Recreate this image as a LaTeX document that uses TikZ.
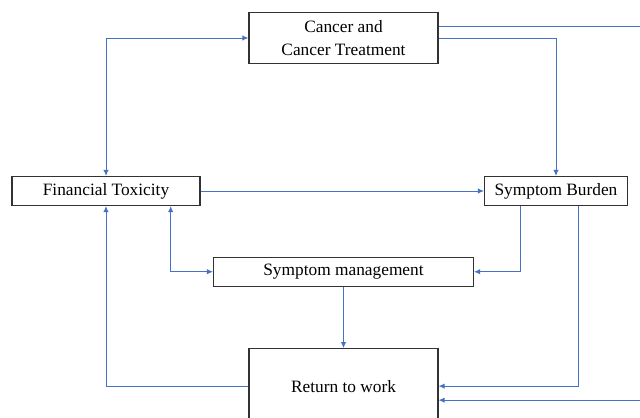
\documentclass[tikz,border=0pt]{standalone}
\usepackage{fontspec}
\setmainfont{Liberation Serif}
\usepackage{tikz}
\usetikzlibrary{positioning,arrows.meta,calc}
\definecolor{linkblue}{RGB}{68, 114, 196}
\definecolor{boxgray}{RGB}{50, 50, 50}

\begin{document}
\begin{tikzpicture}[
    x=0.75pt, y=-0.75pt,
    box/.style={draw=boxgray, line width=0.8pt, align=center, inner sep=0pt,
        font=\fontsize{13}{17.5}\selectfont, fill=white},
    arrow/.style={-{Latex[length=4.5pt,width=4pt]}, line width=0.75pt, draw=linkblue},
    biarrow/.style={{Latex[length=4.5pt,width=4pt]}-{Latex[length=4.5pt,width=4pt]},
        line width=0.75pt, draw=linkblue}
]
\path[use as bounding box, fill=white] (0,0) rectangle (640,418);
\node[box, minimum width=141.75pt, minimum height=38.25pt] (canc) at (343.5,38) {Cancer and\\Cancer Treatment};
\node[box, minimum width=141pt, minimum height=21.75pt] (fintox) at (106,191) {Financial Toxicity};
\node[box, minimum width=107.25pt, minimum height=21.75pt] (burden) at (556,191) {Symptom Burden};
\node[box, minimum width=195pt, minimum height=21.75pt, below=144.5pt of canc] (symman) {Symptom management};
\node[box, minimum width=141.75pt, minimum height=56.25pt, below=46pt of symman] (rtw) {Return to work};
\draw[biarrow] (fintox.north) |- (canc.west);
\draw[arrow] (canc.east) -| (burden.north);
\draw[arrow] ([yshift=9pt]canc.east) -- ++(158pt,0) |- ([yshift=-10.5pt]rtw.east);
\draw[arrow] (fintox) -- (burden);
\draw[biarrow] ([xshift=48.5pt]fintox.south) |- (symman.west);
\draw[arrow] ([xshift=-27pt]burden.south) |- (symman.east);
\draw[arrow] ([xshift=16.5pt]burden.south) |- (rtw.east);
\draw[arrow] (rtw.west) -| (fintox.south);
\draw[arrow] (symman.south) -- (symman.south |- rtw.north);
\end{tikzpicture}
\end{document}
